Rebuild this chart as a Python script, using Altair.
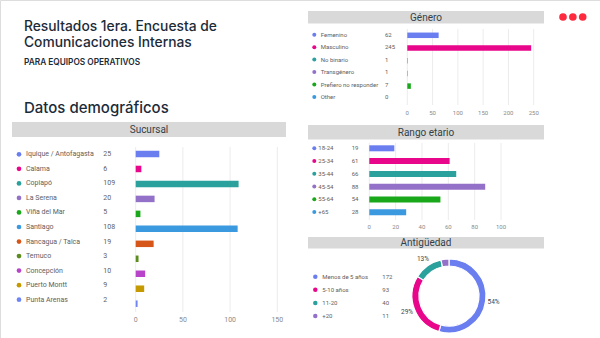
import altair as alt
import pandas as pd

# ---------------- data ----------------
suc_names = ["Iquique / Antofagasta", "Calama", "Copiapó", "La Serena", "Viña del Mar",
             "Santiago", "Rancagua / Talca", "Temuco", "Concepción", "Puerto Montt", "Punta Arenas"]
suc_values = [25, 6, 109, 20, 5, 108, 19, 3, 10, 9, 2]
suc_colors = ["#6a7ef0", "#e8068a", "#2aa19c", "#9471c8", "#18a81a", "#3b99e0",
              "#d6561a", "#5b8c1f", "#b845c9", "#c49a00", "#6f84f5"]
suc_ticks = [0, 50, 100, 150]

gen_names = ["Femenino", "Masculino", "No binario", "Transgénero", "Prefiero no responder", "Other"]
gen_values = [62, 245, 1, 1, 7, 0]
gen_colors = ["#6a7ef0", "#e8068a", "#2aa19c", "#9471c8", "#18a81a", "#3b99e0"]
gen_ticks = [0, 50, 100, 150, 200, 250]

age_names = ["18-24", "25-34", "35-44", "45-54", "55-64", "+65"]
age_values = [19, 61, 66, 88, 54, 28]
age_colors = ["#6a7ef0", "#e8068a", "#2aa19c", "#9471c8", "#18a81a", "#3b99e0"]
age_ticks = [0, 20, 40, 60, 80, 100]

ant_names = ["Menos de 5 años", "5-10 años", "11-20", "+20"]
ant_values = [172, 93, 40, 11]
ant_colors = ["#6a7ef0", "#e8068a", "#2aa19c", "#9471c8"]

title_lines = ["Resultados 1era. Encuesta de", "Comunicaciones Internas"]
subtitle = "PARA EQUIPOS OPERATIVOS"
section = "Datos demográficos"

FT = "Inter"
FS = "Roboto"
DARK = "#1c2b39"
LEG = "#5f5e5c"
TICK = "#8a8a8a"


def text_item(txt, x, y, size, weight=400, color=DARK, font=FT, align="left", baseline="alphabetic"):
    return alt.Chart(pd.DataFrame({"t": [txt]})).mark_text(
        font=font, fontSize=size, fontWeight=weight, color=color, align=align, baseline=baseline
    ).encode(x=alt.value(x), y=alt.value(y), text="t:N")


def header(txt, x0, x1, y0, y1):
    df = pd.DataFrame({"t": [txt]})
    rect = alt.Chart(df).mark_rect(color="#d9d9d9").encode(
        x=alt.value(x0), x2=alt.value(x1), y=alt.value(y0), y2=alt.value(y1))
    lab = alt.Chart(df).mark_text(font=FS, fontSize=10, color="#333f48", align="center",
                                  baseline="middle").encode(
        x=alt.value((x0 + x1) / 2), y=alt.value((y0 + y1) / 2 + 0.5), text="t:N")
    return alt.layer(rect, lab)


def bar_panel(names, values, colors, xr, dmax, ticks, ybar, yleg, bar_size,
              dot_x, label_x, count_x, grid_y, tick_y, fs, dot_size):
    df = pd.DataFrame({"name": names, "value": values})
    xs = alt.Scale(domain=[0, dmax], range=list(xr), nice=False)
    ys = alt.Scale(type="point", domain=names, range=list(ybar), padding=0)
    cs = alt.Scale(domain=names, range=colors)
    bars = alt.Chart(df).mark_bar(size=bar_size).encode(
        x=alt.X("value:Q", scale=xs, axis=None),
        y=alt.Y("name:N", scale=ys, axis=None, sort=names),
        color=alt.Color("name:N", scale=cs, legend=None))
    tdf = pd.DataFrame({"t": ticks})
    grid = alt.Chart(tdf).mark_rule(color="#ececec", strokeWidth=1).encode(
        x=alt.X("t:Q", scale=xs, axis=None), y=alt.value(grid_y[0]), y2=alt.value(grid_y[1]))
    tl = alt.Chart(tdf).mark_text(font=FS, fontSize=fs, color=TICK, align="center",
                                  baseline="middle").encode(
        x=alt.X("t:Q", scale=xs, axis=None), y=alt.value(tick_y), text="t:Q")
    inner = alt.layer(grid, bars, tl)

    lys = alt.Scale(type="point", domain=names, range=list(yleg), padding=0)
    dots = alt.Chart(df).mark_circle(size=dot_size, opacity=1).encode(
        x=alt.value(dot_x), y=alt.Y("name:N", scale=lys, axis=None, sort=names),
        color=alt.Color("name:N", scale=cs, legend=None))
    labs = alt.Chart(df).mark_text(font=FS, fontSize=fs, color=LEG, align="left",
                                   baseline="middle").encode(
        x=alt.value(label_x), y=alt.Y("name:N", scale=lys, axis=None, sort=names), text="name:N")
    cnts = alt.Chart(df).mark_text(font=FS, fontSize=fs, color=LEG, align="left",
                                   baseline="middle").encode(
        x=alt.value(count_x), y=alt.Y("name:N", scale=lys, axis=None, sort=names), text="value:Q")
    leg = alt.layer(dots, labs, cnts)
    return [inner, leg]


layers = []

# titles
layers.append(text_item(title_lines[0], 24, 30.5, 13.8, 500))
layers.append(text_item(title_lines[1], 24, 47.3, 13.8, 500))
layers.append(text_item(subtitle, 24, 65, 8.3, 600))
layers.append(text_item(section, 24, 113.3, 15, 500))

# decorative dots
ddf = pd.DataFrame({"i": [0, 1, 2]})
layers.append(alt.Chart(ddf).mark_circle(size=58, opacity=1, color="#ff2a3d").encode(
    x=alt.X("i:Q", scale=alt.Scale(domain=[0, 2], range=[563, 582.7]), axis=None),
    y=alt.value(17)))

# Sucursal
layers.append(header("Sucursal", 12, 286, 122, 137))
layers += bar_panel(suc_names, suc_values, suc_colors, (135.7, 277.3), 150, suc_ticks,
                    (154, 303.7), (154.3, 299.7), 6.5, 19, 26, 103.3, (147, 312), 320, 7, 22)

# Genero
layers.append(header("Género", 308, 544, 11, 23.5))
layers += bar_panel(gen_names, gen_values, gen_colors, (407.3, 533.7), 250, gen_ticks,
                    (35.3, 98.8), (34.7, 97), 5.5, 314.3, 320.7, 385, (29, 105), 113.3, 6, 16)

# Rango etario
layers.append(header("Rango etario", 308, 544, 125, 139.5))
layers += bar_panel(age_names, age_values, age_colors, (369.3, 501), 100, age_ticks,
                    (148.3, 212.3), (148.3, 212), 6, 314.3, 318.3, 351.7, (143, 220), 226.7, 6, 16)

# Antiguedad
layers.append(header("Antigüedad", 308, 544, 237, 248.5))
adf = pd.DataFrame({"name": ant_names, "value": ant_values, "idx": list(range(len(ant_names)))})
acs = alt.Scale(domain=ant_names, range=ant_colors)
abase = alt.Chart(adf).transform_joinaggregate(total="sum(value)").transform_calculate(
    pct="datum.value / datum.total",
    label="datum.pct >= 0.05 ? format(datum.pct, '.0%') : ''")
arc = abase.mark_arc(innerRadius=30, outerRadius=37, stroke="white", strokeWidth=1.2).encode(
    theta=alt.Theta("value:Q", stack=True),
    order=alt.Order("idx:Q"),
    color=alt.Color("name:N", scale=acs, legend=None),
    x=alt.value(449), y=alt.value(296))
alab = abase.mark_text(radius=45, font=FS, fontSize=6.5, color="#444444").encode(
    theta=alt.Theta("value:Q", stack=True),
    order=alt.Order("idx:Q"),
    text="label:N",
    x=alt.value(449), y=alt.value(296))
layers.append(alt.layer(arc, alab))

alys = alt.Scale(type="point", domain=ant_names, range=[276.7, 316], padding=0)
adots = alt.Chart(adf).mark_circle(size=20, opacity=1).encode(
    x=alt.value(315.3), y=alt.Y("name:N", scale=alys, axis=None, sort=ant_names),
    color=alt.Color("name:N", scale=acs, legend=None))
alabs = alt.Chart(adf).mark_text(font=FS, fontSize=6, color=LEG, align="left", baseline="middle").encode(
    x=alt.value(322.3), y=alt.Y("name:N", scale=alys, axis=None, sort=ant_names), text="name:N")
acnts = alt.Chart(adf).mark_text(font=FS, fontSize=6, color=LEG, align="left", baseline="middle").encode(
    x=alt.value(382.3), y=alt.Y("name:N", scale=alys, axis=None, sort=ant_names), text="value:Q")
layers.append(alt.layer(adots, alabs, acnts))

chart = alt.layer(*layers).resolve_scale(
    x="independent", y="independent", color="independent", theta="independent"
).properties(
    width=600, height=338, padding=0,
    autosize=alt.AutoSizeParams(type="none"),
).configure_view(stroke=None).configure(background="white")

chart.save("out.html", embed_options={"renderer": "svg", "actions": False})
